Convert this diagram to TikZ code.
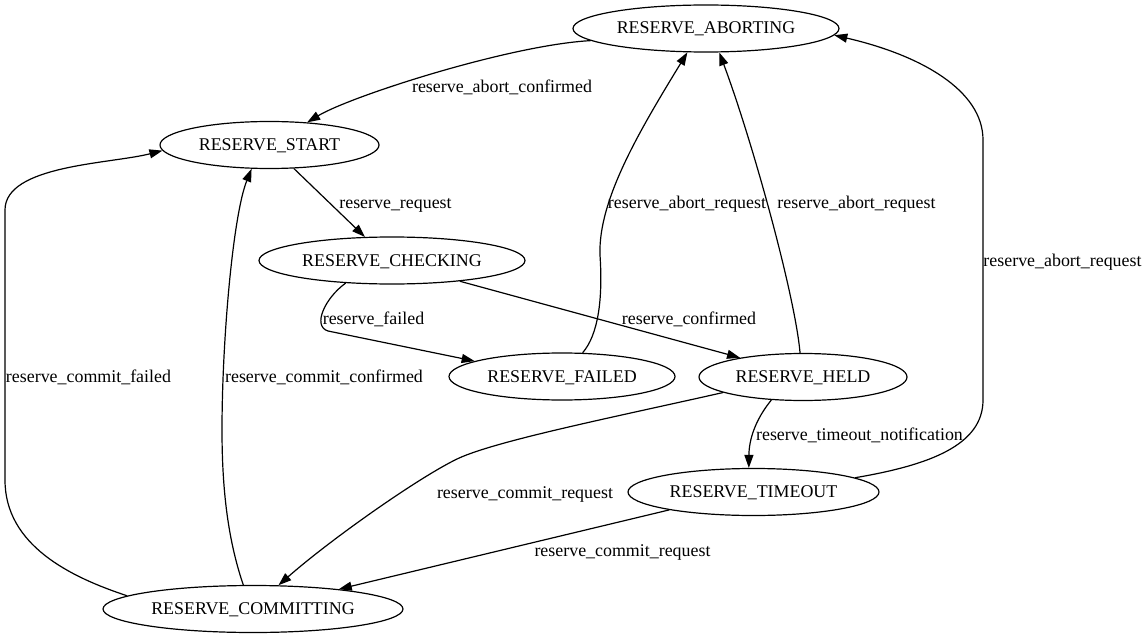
\documentclass[tikz,border=0pt]{standalone}
\usepackage{fontspec}
\setmainfont{Liberation Serif}
\usetikzlibrary{shapes.geometric,arrows.meta}

\begin{document}
\begin{tikzpicture}[x=1pt,y=-1pt,
  every node/.style={font=\fontsize{17.9}{20}\selectfont},
  state/.style={ellipse, draw, line width=1.2pt, inner sep=0pt, minimum height=47pt, text height=15pt, text depth=4pt},
  lbl/.style={inner sep=0pt, text height=17pt, text depth=4pt},
  trans/.style={draw, line width=1.2pt, -{Triangle[length=13pt,width=9pt]}}]
\useasboundingbox (0,0) rectangle (1148,639);

\node[state, minimum width=266pt] (abort)  at (706,28.5)   {RESERVE\_ABORTING};
\node[state, minimum width=219pt] (start)  at (269.5,145)  {RESERVE\_START};
\node[state, minimum width=266pt] (check)  at (392,260.5)  {RESERVE\_CHECKING};
\node[state, minimum width=226pt] (fail)   at (562,376.5)  {RESERVE\_FAILED};
\node[state, minimum width=208pt] (held)   at (803,377)    {RESERVE\_HELD};
\node[state, minimum width=251pt] (tmo)    at (753.5,492)  {RESERVE\_TIMEOUT};
\node[state, minimum width=300pt] (commit) at (253,609)    {RESERVE\_COMMITTING};

% Labels
\node[lbl] (l1)  at (502,86)     {reserve\_abort\_confirmed};
\node[lbl] (l2)  at (395.5,202)  {reserve\_request};
\node[lbl] (l3)  at (373.5,318)  {reserve\_failed};
\node[lbl] (l4)  at (689,318)    {reserve\_confirmed};
\node[lbl] (l5)  at (687,202)    {reserve\_abort\_request};
\node[lbl] (l6)  at (856.5,202)  {reserve\_abort\_request};
\node[lbl] (l7)  at (859.5,434)  {reserve\_timeout\_notification};
\node[lbl] (l8)  at (1062.5,260) {reserve\_abort\_request};
\node[lbl] (l9)  at (525,492)    {reserve\_commit\_request};
\node[lbl] (l10) at (622.5,550)  {reserve\_commit\_request};
\node[lbl] (l11) at (324,376)    {reserve\_commit\_confirmed};
\node[lbl] (l12) at (88.5,376)   {reserve\_commit\_failed};

% Edges
\draw[trans] (abort.186) .. controls (510,45) and (351,96) .. (start.31);
\draw[trans] (start.-44) -- (check.139);
\draw[trans] (check.206) .. controls (325,298) and (312,326) .. (328,331) -- (fail.170);
\draw[trans] (check.-17) -- (held.163);
\draw[trans] (fail.49) .. controls (598,335) and (603,300) .. (600,255) .. controls (598,200) and (640,130) .. (abort.232);
\draw[trans] (held.97) .. controls (795,295) and (752,140) .. (abort.-61);
\draw[trans] (held.216) .. controls (755,420) and (749,440) .. (tmo.101);
\draw[trans] (tmo.8) .. controls (930,465) and (983,445) .. (983,400) -- (983,140) .. controls (983,90) and (920,55) .. (abort.-3);
\draw[trans] (held.191) .. controls (610,418) and (490,442) .. (455,460) .. controls (415,480) and (330,540) .. (commit.43);
\draw[trans] (tmo.192) -- (commit.13);
\draw[trans] (commit.112) .. controls (228,540) and (222,490) .. (222,430) .. controls (222,340) and (233,215) .. (start.233);
\draw[trans] (commit.174) .. controls (70,577) and (5,545) .. (5,480) -- (5,210) .. controls (5,165) and (110,164) .. (start.183);
\end{tikzpicture}
\end{document}
